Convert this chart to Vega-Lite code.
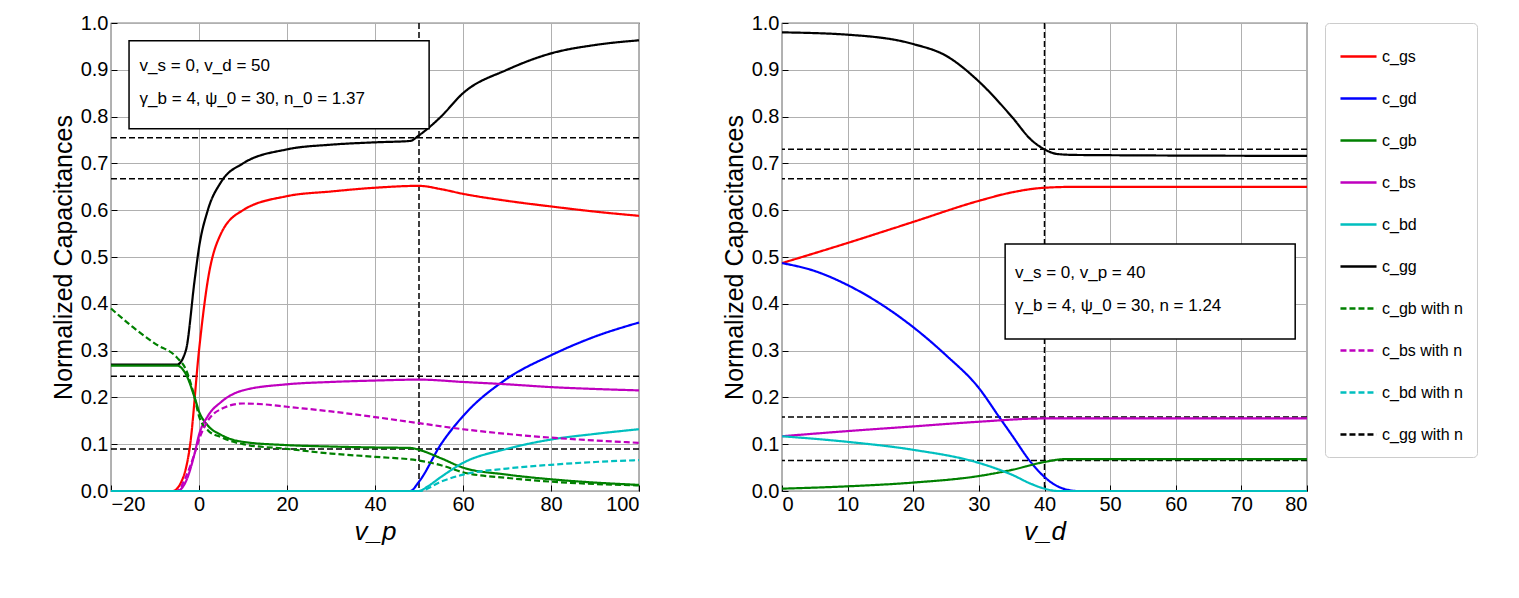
{
  "$schema": "https://vega.github.io/schema/vega-lite/v6.json",
  "padding": {"left": 50, "top": 12, "right": 5, "bottom": 5},
  "config": {
    "font": "Liberation Sans",
    "view": {"stroke": "black", "strokeWidth": 1.2},
    "axis": {"grid": true, "gridColor": "#b0b0b0", "gridWidth": 1, "domain": false, "tickSize": -6, "tickColor": "black", "labelPadding": 9, "labelFontSize": 20, "labelColor": "black", "titleFontSize": 25, "titleFontWeight": "normal", "titleColor": "black"},
    "legend": {"orient": "right", "strokeColor": "#cccccc", "cornerRadius": 4, "padding": 14, "offset": 13, "labelFontSize": 16, "symbolType": "stroke", "symbolSize": 1300, "symbolStrokeWidth": 2.5, "rowPadding": 14, "title": null}
  },
  "datasets": {
    "L": [
      {"s":"c_gg","x":-20,"y":0.27},{"s":"c_gg","x":-5,"y":0.27},{"s":"c_gg","x":-3,"y":0.3},{"s":"c_gg","x":-1,"y":0.45},{"s":"c_gg","x":0,"y":0.52},{"s":"c_gg","x":2,"y":0.6},{"s":"c_gg","x":5,"y":0.66},{"s":"c_gg","x":10,"y":0.7},{"s":"c_gg","x":20,"y":0.73},{"s":"c_gg","x":30,"y":0.74},{"s":"c_gg","x":40,"y":0.745},{"s":"c_gg","x":48,"y":0.748},{"s":"c_gg","x":50,"y":0.76},{"s":"c_gg","x":55,"y":0.8},{"s":"c_gg","x":60,"y":0.85},{"s":"c_gg","x":70,"y":0.9},{"s":"c_gg","x":80,"y":0.935},{"s":"c_gg","x":90,"y":0.953},{"s":"c_gg","x":100,"y":0.963},
      {"s":"c_gs","x":-20,"y":0},{"s":"c_gs","x":-6,"y":0},{"s":"c_gs","x":-4,"y":0.02},{"s":"c_gs","x":-2,"y":0.1},{"s":"c_gs","x":0,"y":0.3},{"s":"c_gs","x":2,"y":0.45},{"s":"c_gs","x":5,"y":0.55},{"s":"c_gs","x":10,"y":0.6},{"s":"c_gs","x":20,"y":0.63},{"s":"c_gs","x":30,"y":0.64},{"s":"c_gs","x":40,"y":0.648},{"s":"c_gs","x":50,"y":0.652},{"s":"c_gs","x":55,"y":0.645},{"s":"c_gs","x":60,"y":0.635},{"s":"c_gs","x":70,"y":0.62},{"s":"c_gs","x":80,"y":0.608},{"s":"c_gs","x":90,"y":0.597},{"s":"c_gs","x":100,"y":0.588},
      {"s":"c_gd","x":-20,"y":0},{"s":"c_gd","x":48,"y":0},{"s":"c_gd","x":50,"y":0.02},{"s":"c_gd","x":55,"y":0.1},{"s":"c_gd","x":60,"y":0.16},{"s":"c_gd","x":70,"y":0.24},{"s":"c_gd","x":80,"y":0.29},{"s":"c_gd","x":90,"y":0.33},{"s":"c_gd","x":100,"y":0.36},
      {"s":"c_gb","x":-20,"y":0.268},{"s":"c_gb","x":-5,"y":0.268},{"s":"c_gb","x":-3,"y":0.25},{"s":"c_gb","x":-1,"y":0.2},{"s":"c_gb","x":0,"y":0.17},{"s":"c_gb","x":2,"y":0.14},{"s":"c_gb","x":5,"y":0.12},{"s":"c_gb","x":10,"y":0.105},{"s":"c_gb","x":20,"y":0.098},{"s":"c_gb","x":30,"y":0.095},{"s":"c_gb","x":40,"y":0.093},{"s":"c_gb","x":48,"y":0.092},{"s":"c_gb","x":50,"y":0.088},{"s":"c_gb","x":55,"y":0.07},{"s":"c_gb","x":60,"y":0.05},{"s":"c_gb","x":70,"y":0.035},{"s":"c_gb","x":80,"y":0.025},{"s":"c_gb","x":90,"y":0.018},{"s":"c_gb","x":100,"y":0.013},
      {"s":"c_bs","x":-20,"y":0},{"s":"c_bs","x":-5,"y":0},{"s":"c_bs","x":-3,"y":0.02},{"s":"c_bs","x":-1,"y":0.08},{"s":"c_bs","x":0,"y":0.12},{"s":"c_bs","x":2,"y":0.16},{"s":"c_bs","x":5,"y":0.19},{"s":"c_bs","x":10,"y":0.215},{"s":"c_bs","x":20,"y":0.228},{"s":"c_bs","x":30,"y":0.233},{"s":"c_bs","x":40,"y":0.236},{"s":"c_bs","x":50,"y":0.238},{"s":"c_bs","x":60,"y":0.233},{"s":"c_bs","x":70,"y":0.228},{"s":"c_bs","x":80,"y":0.222},{"s":"c_bs","x":90,"y":0.218},{"s":"c_bs","x":100,"y":0.215},
      {"s":"c_bd","x":-20,"y":0},{"s":"c_bd","x":50,"y":0},{"s":"c_bd","x":52,"y":0.01},{"s":"c_bd","x":55,"y":0.03},{"s":"c_bd","x":60,"y":0.06},{"s":"c_bd","x":70,"y":0.09},{"s":"c_bd","x":80,"y":0.11},{"s":"c_bd","x":90,"y":0.122},{"s":"c_bd","x":100,"y":0.132},
      {"s":"c_gb with n","x":-20,"y":0.39},{"s":"c_gb with n","x":-15,"y":0.35},{"s":"c_gb with n","x":-10,"y":0.315},{"s":"c_gb with n","x":-5,"y":0.285},{"s":"c_gb with n","x":-3,"y":0.26},{"s":"c_gb with n","x":-1,"y":0.2},{"s":"c_gb with n","x":0,"y":0.16},{"s":"c_gb with n","x":2,"y":0.13},{"s":"c_gb with n","x":5,"y":0.115},{"s":"c_gb with n","x":10,"y":0.1},{"s":"c_gb with n","x":20,"y":0.09},{"s":"c_gb with n","x":30,"y":0.08},{"s":"c_gb with n","x":40,"y":0.073},{"s":"c_gb with n","x":50,"y":0.065},{"s":"c_gb with n","x":55,"y":0.055},{"s":"c_gb with n","x":60,"y":0.04},{"s":"c_gb with n","x":70,"y":0.028},{"s":"c_gb with n","x":80,"y":0.02},{"s":"c_gb with n","x":90,"y":0.015},{"s":"c_gb with n","x":100,"y":0.012},
      {"s":"c_bs with n","x":-20,"y":0},{"s":"c_bs with n","x":-5,"y":0},{"s":"c_bs with n","x":-3,"y":0.03},{"s":"c_bs with n","x":-1,"y":0.08},{"s":"c_bs with n","x":0,"y":0.11},{"s":"c_bs with n","x":2,"y":0.15},{"s":"c_bs with n","x":5,"y":0.175},{"s":"c_bs with n","x":10,"y":0.187},{"s":"c_bs with n","x":15,"y":0.185},{"s":"c_bs with n","x":20,"y":0.18},{"s":"c_bs with n","x":30,"y":0.17},{"s":"c_bs with n","x":40,"y":0.158},{"s":"c_bs with n","x":50,"y":0.145},{"s":"c_bs with n","x":60,"y":0.132},{"s":"c_bs with n","x":70,"y":0.122},{"s":"c_bs with n","x":80,"y":0.114},{"s":"c_bs with n","x":90,"y":0.108},{"s":"c_bs with n","x":100,"y":0.103},
      {"s":"c_bd with n","x":-20,"y":0},{"s":"c_bd with n","x":50,"y":0},{"s":"c_bd with n","x":55,"y":0.02},{"s":"c_bd with n","x":60,"y":0.035},{"s":"c_bd with n","x":70,"y":0.048},{"s":"c_bd with n","x":80,"y":0.056},{"s":"c_bd with n","x":90,"y":0.062},{"s":"c_bd with n","x":100,"y":0.066}
    ],
    "R": [
      {"s":"c_gg","x":0,"y":0.98},{"s":"c_gg","x":10,"y":0.975},{"s":"c_gg","x":20,"y":0.955},{"s":"c_gg","x":25,"y":0.93},{"s":"c_gg","x":30,"y":0.875},{"s":"c_gg","x":35,"y":0.8},{"s":"c_gg","x":38,"y":0.75},{"s":"c_gg","x":40,"y":0.73},{"s":"c_gg","x":42,"y":0.72},{"s":"c_gg","x":45,"y":0.718},{"s":"c_gg","x":80,"y":0.716},
      {"s":"c_gs","x":0,"y":0.487},{"s":"c_gs","x":10,"y":0.53},{"s":"c_gs","x":20,"y":0.575},{"s":"c_gs","x":30,"y":0.62},{"s":"c_gs","x":35,"y":0.638},{"s":"c_gs","x":40,"y":0.648},{"s":"c_gs","x":45,"y":0.65},{"s":"c_gs","x":80,"y":0.65},
      {"s":"c_gd","x":0,"y":0.487},{"s":"c_gd","x":5,"y":0.47},{"s":"c_gd","x":10,"y":0.44},{"s":"c_gd","x":15,"y":0.4},{"s":"c_gd","x":20,"y":0.35},{"s":"c_gd","x":25,"y":0.29},{"s":"c_gd","x":30,"y":0.22},{"s":"c_gd","x":33,"y":0.16},{"s":"c_gd","x":35,"y":0.12},{"s":"c_gd","x":38,"y":0.06},{"s":"c_gd","x":40,"y":0.03},{"s":"c_gd","x":42,"y":0.01},{"s":"c_gd","x":45,"y":0},{"s":"c_gd","x":80,"y":0},
      {"s":"c_gb","x":0,"y":0.005},{"s":"c_gb","x":10,"y":0.01},{"s":"c_gb","x":20,"y":0.018},{"s":"c_gb","x":30,"y":0.032},{"s":"c_gb","x":35,"y":0.045},{"s":"c_gb","x":40,"y":0.062},{"s":"c_gb","x":43,"y":0.068},{"s":"c_gb","x":80,"y":0.068},
      {"s":"c_bs","x":0,"y":0.117},{"s":"c_bs","x":10,"y":0.128},{"s":"c_bs","x":20,"y":0.138},{"s":"c_bs","x":30,"y":0.148},{"s":"c_bs","x":40,"y":0.155},{"s":"c_bs","x":80,"y":0.155},
      {"s":"c_bd","x":0,"y":0.117},{"s":"c_bd","x":10,"y":0.105},{"s":"c_bd","x":20,"y":0.088},{"s":"c_bd","x":30,"y":0.06},{"s":"c_bd","x":35,"y":0.035},{"s":"c_bd","x":38,"y":0.015},{"s":"c_bd","x":40,"y":0.005},{"s":"c_bd","x":42,"y":0},{"s":"c_bd","x":80,"y":0}
    ]
  },
  "hconcat": [
    {
      "width": 528, "height": 468,
      "layer": [
        {"data": {"values": [{"y": 0.755}, {"y": 0.667}, {"y": 0.245}, {"y": 0.09}]}, "mark": {"type": "rule", "color": "black", "strokeDash": [6, 3], "strokeWidth": 1.5}, "encoding": {"y": {"field": "y", "type": "quantitative"}}},
        {"data": {"values": [{"x": 50}]}, "mark": {"type": "rule", "color": "black", "strokeDash": [6, 3], "strokeWidth": 1.5}, "encoding": {"x": {"field": "x", "type": "quantitative"}}},
        {"data": {"name": "L"}, "mark": {"type": "line", "strokeWidth": 2.2, "interpolate": "monotone"},
          "encoding": {
            "x": {"field": "x", "type": "quantitative", "scale": {"domain": [-20, 100], "nice": false}, "axis": {"values": [-20, 0, 20, 40, 60, 80, 100], "title": "v_p", "titleFontStyle": "italic", "titleFontSize": 26}},
            "y": {"field": "y", "type": "quantitative", "scale": {"domain": [0, 1], "nice": false}, "axis": {"tickCount": 10, "format": ".1f", "title": "Normalized Capacitances"}},
            "color": {"field": "s", "type": "nominal", "scale": {"domain": ["c_gs","c_gd","c_gb","c_bs","c_bd","c_gg","c_gb with n","c_bs with n","c_bd with n","c_gg with n"], "range": ["#ff0000","#0000ff","#008000","#bf00bf","#00bfbf","#000000","#008000","#bf00bf","#00bfbf","#000000"]}},
            "strokeDash": {"field": "s", "type": "nominal", "scale": {"domain": ["c_gs","c_gd","c_gb","c_bs","c_bd","c_gg","c_gb with n","c_bs with n","c_bd with n","c_gg with n"], "range": [[1,0],[1,0],[1,0],[1,0],[1,0],[1,0],[6,3],[6,3],[6,3],[6,3]]}}
          }},
        {"data": {"values": [{"x1": -15.9, "x2": 52.3, "y1": 0.774, "y2": 0.962}]}, "mark": {"type": "rect", "fill": "white", "stroke": "black", "strokeWidth": 1.5}, "encoding": {"x": {"field": "x1", "type": "quantitative"}, "x2": {"field": "x2"}, "y": {"field": "y1", "type": "quantitative"}, "y2": {"field": "y2"}}},
        {"data": {"values": [{"x": -13.5, "y": 0.908, "t": "v_s =  0, v_d =  50"}, {"x": -13.5, "y": 0.838, "t": "γ_b =  4, ψ_0 =  30, n_0 =  1.37"}]}, "mark": {"type": "text", "align": "left", "fontSize": 17}, "encoding": {"x": {"field": "x", "type": "quantitative"}, "y": {"field": "y", "type": "quantitative"}, "text": {"field": "t"}}}
      ]
    },
    {
      "width": 525, "height": 468,
      "layer": [
        {"data": {"values": [{"y": 0.73}, {"y": 0.667}, {"y": 0.158}, {"y": 0.065}]}, "mark": {"type": "rule", "color": "black", "strokeDash": [6, 3], "strokeWidth": 1.5}, "encoding": {"y": {"field": "y", "type": "quantitative"}}},
        {"data": {"values": [{"x": 40}]}, "mark": {"type": "rule", "color": "black", "strokeDash": [6, 3], "strokeWidth": 1.5}, "encoding": {"x": {"field": "x", "type": "quantitative"}}},
        {"data": {"name": "R"}, "mark": {"type": "line", "strokeWidth": 2.2, "interpolate": "monotone"},
          "encoding": {
            "x": {"field": "x", "type": "quantitative", "scale": {"domain": [0, 80], "nice": false}, "axis": {"values": [0, 10, 20, 30, 40, 50, 60, 70, 80], "title": "v_d", "titleFontStyle": "italic", "titleFontSize": 26}},
            "y": {"field": "y", "type": "quantitative", "scale": {"domain": [0, 1], "nice": false}, "axis": {"tickCount": 10, "format": ".1f", "title": "Normalized Capacitances"}},
            "color": {"field": "s", "type": "nominal"},
            "strokeDash": {"field": "s", "type": "nominal"}
          }},
        {"data": {"values": [{"x1": 34.0, "x2": 78.2, "y1": 0.325, "y2": 0.528}]}, "mark": {"type": "rect", "fill": "white", "stroke": "black", "strokeWidth": 1.5}, "encoding": {"x": {"field": "x1", "type": "quantitative"}, "x2": {"field": "x2"}, "y": {"field": "y1", "type": "quantitative"}, "y2": {"field": "y2"}}},
        {"data": {"values": [{"x": 35.5, "y": 0.466, "t": "v_s =  0, v_p =  40"}, {"x": 35.5, "y": 0.395, "t": "γ_b =  4, ψ_0 =  30, n =  1.24"}]}, "mark": {"type": "text", "align": "left", "fontSize": 17}, "encoding": {"x": {"field": "x", "type": "quantitative"}, "y": {"field": "y", "type": "quantitative"}, "text": {"field": "t"}}}
      ]
    }
  ],
  "spacing": 77
}
